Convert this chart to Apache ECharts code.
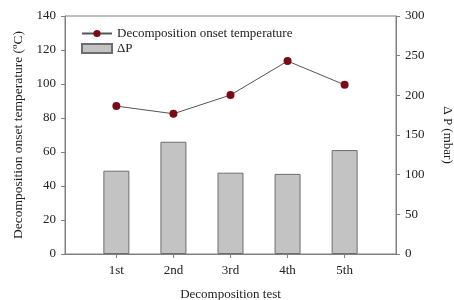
<!DOCTYPE html>
<html lang="en">
  <head>
    <meta charset="UTF-8" />
    <title>Decomposition test</title>
    <script src="https://cdn.jsdelivr.net/npm/echarts@6.0.0/dist/echarts.min.js"></script>
    <style>
      html, body { margin: 0; padding: 0; background: #fff; }
    </style>
  </head>
  <body>
    <div id="main" style="width: 454px; height: 300px"></div>
    <script type="text/javascript">
      // data
      const tests = ['1st', '2nd', '3rd', '4th', '5th'];
      const onsetTemp = [87, 82.5, 93.5, 113.5, 99.5];
      const deltaP = [105, 141.5, 102.5, 101, 131];
      const leftTicks = [0, 20, 40, 60, 80, 100, 120, 140];
      const rightTicks = [0, 50, 100, 150, 200, 250, 300];

      const font = 'Liberation Serif';
      const axisColor = '#808080';
      const textColor = '#222';

      const positions = tests.map((t, i) => i + 1);

      const myChart = echarts.init(document.getElementById('main'));

      const option = {
        animation: false,
        textStyle: { fontFamily: font },
        grid: {
          left: 65,
          right: 58,
          top: 16,
          bottom: 46,
          outerBoundsMode: 'none',
          containLabel: false,
          show: true,
          borderColor: axisColor,
          borderWidth: 1,
        },
        legend: {
          orient: 'vertical',
          left: 76,
          top: 22,
          itemWidth: 30,
          itemHeight: 9,
          itemGap: 2,
          textStyle: { fontFamily: font, fontSize: 13, color: textColor },
          data: ['Decomposition onset temperature', { name: 'ΔP', icon: 'rect' }],
        },
        xAxis: {
          type: 'value',
          min: 0.1,
          max: 5.9,
          name: 'Decomposition test',
          nameLocation: 'middle',
          nameGap: 34,
          nameTextStyle: { fontFamily: font, fontSize: 13, color: textColor },
          axisLine: { lineStyle: { color: axisColor } },
          axisTick: {
            customValues: positions,
            length: 4,
            lineStyle: { color: axisColor },
          },
          axisLabel: {
            customValues: positions,
            formatter: (v) => tests[Math.round(v) - 1],
            fontFamily: font,
            fontSize: 13,
            color: textColor,
            margin: 10,
          },
          splitLine: { show: false },
        },
        yAxis: [
          {
            type: 'value',
            min: 0,
            max: 140,
            interval: 20,
            name: '{a|Decomposition onset temperature (}{s|o}{a|C)}',
            nameLocation: 'middle',
            nameGap: 33,
            nameTextStyle: {
              rich: {
                a: { fontFamily: font, fontSize: 13.5, color: textColor },
                s: { fontFamily: font, fontSize: 9, color: textColor, padding: [0, 0, 8, 0] },
              },
            },
            axisLine: { show: true, lineStyle: { color: axisColor } },
            axisTick: { show: true, length: 4, lineStyle: { color: axisColor } },
            axisLabel: {
              fontFamily: font,
              fontSize: 13,
              color: textColor,
              margin: 9,
              customValues: leftTicks,
            },
            splitLine: { show: false },
          },
          {
            type: 'value',
            min: 0,
            max: 300,
            interval: 50,
            position: 'right',
            name: 'Δ P (mbar)',
            nameLocation: 'middle',
            nameGap: 45,
            nameRotate: -90,
            nameTextStyle: { fontFamily: font, fontSize: 13, color: textColor },
            axisLine: { show: true, lineStyle: { color: axisColor } },
            axisTick: { show: true, length: 4, lineStyle: { color: axisColor } },
            axisLabel: {
              fontFamily: font,
              fontSize: 13,
              color: textColor,
              margin: 9,
              customValues: rightTicks,
            },
            splitLine: { show: false },
          },
        ],
        series: [
          {
            name: 'ΔP',
            type: 'bar',
            yAxisIndex: 1,
            barWidth: 26,
            itemStyle: { color: '#c3c3c3', borderColor: '#6e6e6e', borderWidth: 1 },
            data: deltaP.map((v, i) => [positions[i], v]),
            z: 1,
          },
          {
            name: 'Decomposition onset temperature',
            type: 'line',
            yAxisIndex: 0,
            symbol: 'circle',
            symbolSize: 8,
            lineStyle: { color: '#555', width: 1 },
            itemStyle: { color: '#7a0a14' },
            data: onsetTemp.map((v, i) => [positions[i], v]),
            z: 3,
          },
        ],
      };

      myChart.setOption(option);
    </script>
  </body>
</html>
